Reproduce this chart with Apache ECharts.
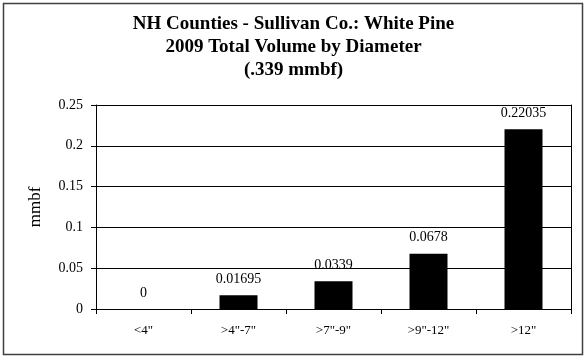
<!DOCTYPE html>
<html>
<head>
<meta charset="utf-8">
<script src="https://cdn.jsdelivr.net/npm/echarts@6/dist/echarts.min.js"></script>
<style>
html,body{margin:0;padding:0;background:#fff;}
#chart{width:587px;height:360px;}
</style>
</head>
<body>
<div id="chart"></div>
<script>
var categories = ['<4"', '>4"-7"', '>7"-9"', '>9"-12"', '>12"'];
var volumes = [0, 0.01695, 0.0339, 0.0678, 0.22035];
var titleLines = ['NH Counties - Sullivan Co.: White Pine', '2009 Total Volume by Diameter', '(.339 mmbf)'];
var yAxisName = 'mmbf';

var font = '"Liberation Serif", "Times New Roman", serif';
var chart = echarts.init(document.getElementById('chart'), null, {renderer: 'canvas'});
chart.setOption({
  animation: false,
  backgroundColor: '#fff',
  textStyle: {fontFamily: font, color: '#000'},
  title: {
    text: titleLines.join('\n'),
    left: 'center',
    top: 8,
    textStyle: {fontFamily: font, fontSize: 19, fontWeight: 'bold', color: '#000', lineHeight: 23}
  },
  graphic: [{
    type: 'rect',
    shape: {x: 3.5, y: 3.5, width: 579, height: 351},
    style: {fill: 'none', stroke: '#404040', lineWidth: 1.5},
    silent: true
  }],
  grid: {left: 96, right: 16, top: 105, bottom: 51, containLabel: false},
  xAxis: {
    type: 'category',
    data: categories,
    boundaryGap: true,
    axisLine: {lineStyle: {color: '#000', width: 1}},
    axisTick: {show: true, inside: false, length: 5, lineStyle: {color: '#000'}},
    axisLabel: {fontFamily: font, fontSize: 13, color: '#000', margin: 15}
  },
  yAxis: [{
    type: 'value',
    min: 0,
    max: 0.25,
    interval: 0.05,
    name: yAxisName,
    nameLocation: 'middle',
    nameGap: 52,
    nameTextStyle: {fontFamily: font, fontSize: 17, color: '#000'},
    axisLine: {show: true, lineStyle: {color: '#000', width: 1}},
    axisTick: {show: true, length: 5, lineStyle: {color: '#000'}},
    axisLabel: {fontFamily: font, fontSize: 14, color: '#000', margin: 13},
    splitLine: {show: true, lineStyle: {color: '#000', width: 1}}
  }, {
    type: 'value',
    position: 'right',
    min: 0,
    max: 0.25,
    interval: 0.05,
    axisLine: {show: true, lineStyle: {color: '#000', width: 1}},
    axisTick: {show: false},
    axisLabel: {show: false},
    splitLine: {show: false}
  }],
  series: [{
    type: 'bar',
    data: volumes,
    barWidth: '40%',
    itemStyle: {color: '#000'},
    label: {
      show: true,
      position: 'top',
      distance: 9,
      fontFamily: font,
      fontSize: 14,
      color: '#000'
    }
  }]
});
</script>
</body>
</html>
